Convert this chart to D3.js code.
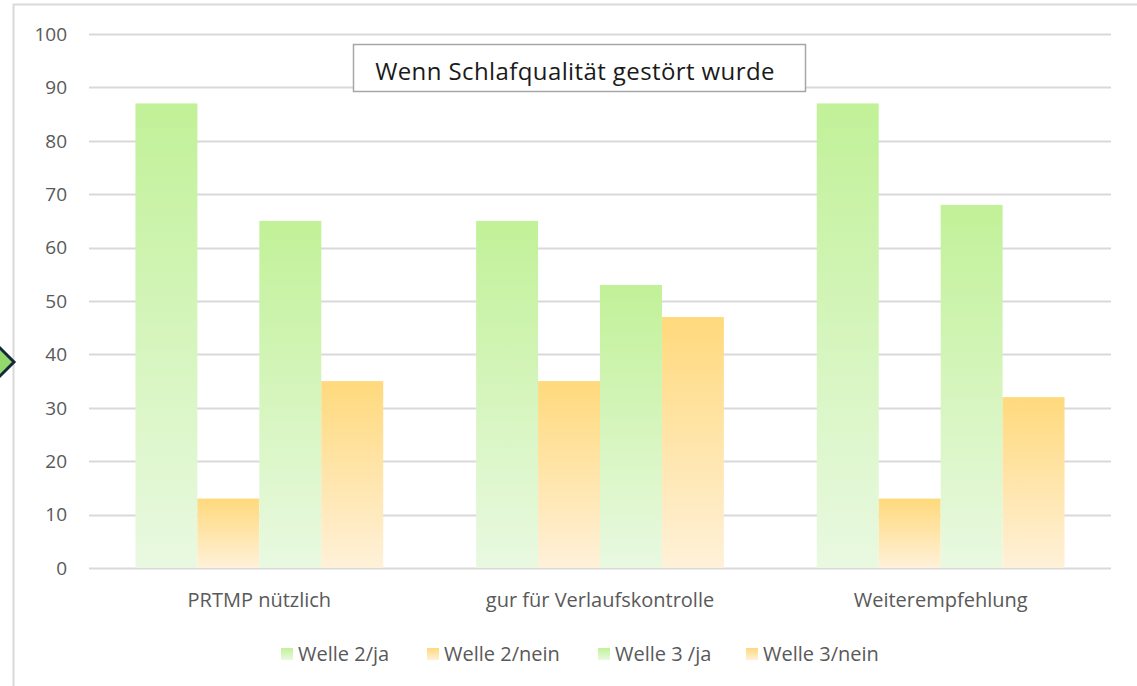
<!DOCTYPE html>
<html>
<head>
<meta charset="utf-8">
<script src="https://cdn.jsdelivr.net/npm/d3@7"></script>
<style>
  html, body { margin: 0; padding: 0; background: #fff; }
  svg { display: block; }
</style>
</head>
<body>
<svg id="chart" width="1137" height="686"></svg>
<script>
const categories = ["PRTMP nützlich", "gur für Verlaufskontrolle", "Weiterempfehlung"];
const seriesNames = ["Welle 2/ja", "Welle 2/nein", "Welle 3 /ja", "Welle 3/nein"];
const welle2ja = [87, 65, 87];
const welle2nein = [13, 35, 13];
const welle3ja = [65, 53, 68];
const welle3nein = [35, 47, 32];
const yTicks = [0, 10, 20, 30, 40, 50, 60, 70, 80, 90, 100];
const title = "Wenn Schlafqualität gestört wurde";

const seriesValues = [welle2ja, welle2nein, welle3ja, welle3nein];
const seriesKind = ["green", "orange", "green", "orange"];

const svg = d3.select("#chart");
const W = 1137, H = 686;
const plot = { left: 89, right: 1111, top: 34, bottom: 568 };
const font = "'Open Sans', 'Noto Sans', sans-serif";

// defs: gradients
const defs = svg.append("defs");
const gG = defs.append("linearGradient").attr("id", "gGreen").attr("x1", 0).attr("y1", 0).attr("x2", 0).attr("y2", 1);
gG.append("stop").attr("offset", "0%").attr("stop-color", "#c1f198");
gG.append("stop").attr("offset", "100%").attr("stop-color", "#e9f9e1");
const gO = defs.append("linearGradient").attr("id", "gOrange").attr("x1", 0).attr("y1", 0).attr("x2", 0).attr("y2", 1);
gO.append("stop").attr("offset", "0%").attr("stop-color", "#ffd97c");
gO.append("stop").attr("offset", "100%").attr("stop-color", "#fff1d9");

// chart border (left & top visible)
svg.append("path")
  .attr("d", `M13.5,${H + 2} L13.5,4.5 L${W + 2},4.5`)
  .attr("fill", "none").attr("stroke", "#d9d9d9").attr("stroke-width", 2);

// arrow shape at left edge
svg.append("path")
  .attr("d", "M-16,362 L-1,347 L14,362 L-1,377 Z")
  .attr("fill", "#92d86a").attr("stroke", "#15283a").attr("stroke-width", 3).attr("stroke-linejoin", "miter");

const y = d3.scaleLinear().domain([0, 100]).range([plot.bottom, plot.top]);
const x0 = d3.scaleBand().domain(categories).range([plot.left, plot.right]).paddingInner(0).paddingOuter(0);
const x1 = d3.scaleBand().domain(d3.range(4)).range([0, x0.bandwidth()]).paddingInner(0).paddingOuter(0.75);

// gridlines
svg.append("g")
  .selectAll("line").data(yTicks).join("line")
  .attr("x1", plot.left).attr("x2", plot.right)
  .attr("y1", d => Math.round(y(d)) + 0.5).attr("y2", d => Math.round(y(d)) + 0.5)
  .attr("stroke", "#d9d9d9").attr("stroke-width", 2);

// y axis labels
const yAxis = d3.axisLeft(y).tickValues(yTicks).tickSize(0).tickPadding(0);
const ya = svg.append("g").attr("transform", `translate(67,0)`).call(yAxis);
ya.select(".domain").remove();
ya.selectAll("text").attr("font-family", font).attr("font-size", 19).attr("fill", "#595959").attr("dy", "0.33em");

// bars
const groups = svg.append("g").selectAll("g").data(categories).join("g")
  .attr("transform", d => `translate(${x0(d)},0)`);
groups.each(function(cat, ci) {
  d3.select(this).selectAll("rect").data(seriesValues.map((s, si) => ({ si, v: s[ci] }))).join("rect")
    .attr("x", d => x1(d.si))
    .attr("width", x1.bandwidth())
    .attr("y", d => y(d.v))
    .attr("height", d => y(0) - y(d.v))
    .attr("fill", d => seriesKind[d.si] === "green" ? "url(#gGreen)" : "url(#gOrange)");
});

// x axis labels
const xAxis = d3.axisBottom(x0).tickSize(0).tickPadding(0);
const xa = svg.append("g").attr("transform", `translate(0,607)`).call(xAxis);
xa.select(".domain").remove();
xa.selectAll("text").attr("font-family", font).attr("font-size", 20).attr("fill", "#595959").attr("dy", "0").attr("y", 0);

// title box
svg.append("rect").attr("x", 353.5).attr("y", 44.5).attr("width", 452).attr("height", 47)
  .attr("fill", "#fff").attr("stroke", "#a6a6a6").attr("stroke-width", 1.5);
svg.append("text").attr("x", 575).attr("y", 80).attr("text-anchor", "middle")
  .attr("font-family", font).attr("font-size", 24).attr("fill", "#1a1a1a").attr("letter-spacing", 0.4)
  .text(title);

// legend
const legendX = [281, 427, 598, 746];
const legend = svg.append("g").selectAll("g").data(seriesNames).join("g")
  .attr("transform", (d, i) => `translate(${legendX[i]},654)`);
legend.append("rect").attr("x", 0).attr("y", -6).attr("width", 12).attr("height", 12)
  .attr("fill", (d, i) => seriesKind[i] === "green" ? "url(#gGreen)" : "url(#gOrange)");
legend.append("text").attr("x", 17).attr("y", 7)
  .attr("font-family", font).attr("font-size", 20).attr("fill", "#595959").text(d => d);
</script>
</body>
</html>
